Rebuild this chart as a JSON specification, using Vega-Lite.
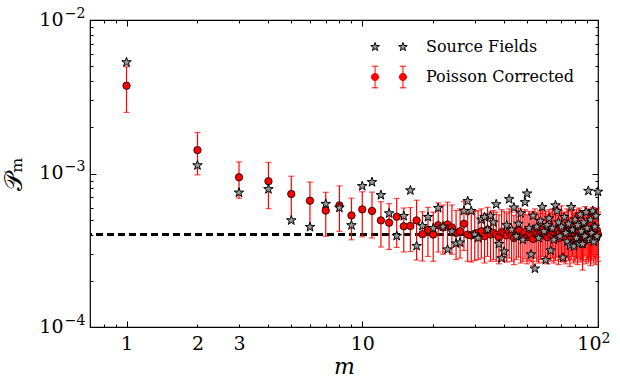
{
  "$schema": "https://vega.github.io/schema/vega-lite/v6.json",
  "width": 508,
  "height": 307,
  "autosize": "none",
  "padding": {"left": 90, "top": 20, "right": 22, "bottom": 54},
  "background": "white",
  "config": {"view": {"stroke": "black", "strokeWidth": 1.2}, "font": "DejaVu Serif"},
  "data": {"values": [
    {"m":1,"S":5.3e-3,"C":3.73e-3,"lo":2.5e-3,"hi":4.96e-3},
    {"m":2,"S":1.13e-3,"C":1.42e-3,"lo":9.8e-4,"hi":1.85e-3},
    {"m":3,"S":7.5e-4,"C":9.45e-4,"lo":6.9e-4,"hi":1.19e-3},
    {"m":4,"S":7.9e-4,"C":8.9e-4,"lo":5.9e-4,"hi":1.18e-3},
    {"m":5,"S":4.95e-4,"C":7.35e-4,"lo":4.8e-4,"hi":9.6e-4},
    {"m":6,"S":4.48e-4,"C":6.65e-4,"lo":4.4e-4,"hi":8.8e-4},
    {"m":7,"S":6.33e-4,"C":5.73e-4,"lo":3.9e-4,"hi":7.54e-4},
    {"m":8,"S":5.98e-4,"C":6.2e-4,"lo":4.2e-4,"hi":8.3e-4},
    {"m":9,"S":4.6e-4,"C":5.33e-4,"lo":3.7e-4,"hi":6.9e-4},
    {"m":10,"S":8.27e-4,"C":5.84e-4,"lo":3.87e-4,"hi":7.6e-4},
    {"m":11,"S":8.78e-4,"C":5.7e-4,"lo":3.8e-4,"hi":7.56e-4},
    {"m":12,"S":7.23e-4,"C":4.95e-4,"lo":3.32e-4,"hi":6.55e-4},
    {"m":13,"S":5.5e-4,"C":4.78e-4,"lo":3.2e-4,"hi":6.36e-4},
    {"m":14,"S":3.92e-4,"C":5.23e-4,"lo":3.3e-4,"hi":6.88e-4},
    {"m":15,"S":5.28e-4,"C":4.53e-4,"lo":3.08e-4,"hi":5.96e-4},
    {"m":16,"S":7.76e-4,"C":4.55e-4,"lo":3.1e-4,"hi":6.0e-4},
    {"m":17,"S":3.37e-4,"C":4.95e-4,"lo":2.73e-4,"hi":6.7e-4},
    {"m":18,"S":4.55e-4,"C":4.02e-4,"lo":2.69e-4,"hi":5.63e-4},
    {"m":19,"S":5.2e-4,"C":4.3e-4,"lo":2.88e-4,"hi":6.02e-4},
    {"m":20,"S":4.4e-4,"C":4.0e-4,"lo":2.68e-4,"hi":5.6e-4},
    {"m":21,"S":5.95e-4,"C":4.6e-4,"lo":3.08e-4,"hi":6.44e-4},
    {"m":22,"S":4.5e-4,"C":4.45e-4,"lo":2.98e-4,"hi":6.23e-4},
    {"m":23,"S":3.2e-4,"C":4.65e-4,"lo":3.12e-4,"hi":6.51e-4},
    {"m":24,"S":4.2e-4,"C":4.45e-4,"lo":2.98e-4,"hi":6.23e-4},
    {"m":25,"S":3.5e-4,"C":4.1e-4,"lo":2.75e-4,"hi":5.74e-4},
    {"m":26,"S":3.55e-4,"C":4.2e-4,"lo":2.81e-4,"hi":5.88e-4},
    {"m":27,"S":5.7e-4,"C":4.7e-4,"lo":3.15e-4,"hi":6.58e-4},
    {"m":28,"S":6.6e-4,"C":4.0e-4,"lo":2.68e-4,"hi":5.6e-4},
    {"m":29,"S":5.7e-4,"C":3.95e-4,"lo":2.65e-4,"hi":5.53e-4},
    {"m":30,"S":4.0e-4,"C":4.05e-4,"lo":2.71e-4,"hi":5.67e-4},
    {"m":31,"S":3.8e-4,"C":4.1e-4,"lo":2.75e-4,"hi":5.74e-4},
    {"m":32,"S":5.0e-4,"C":4.2e-4,"lo":2.81e-4,"hi":5.88e-4},
    {"m":33,"S":5.2e-4,"C":3.9e-4,"lo":2.61e-4,"hi":5.46e-4},
    {"m":34,"S":4.3e-4,"C":4.3e-4,"lo":2.88e-4,"hi":6.02e-4},
    {"m":35,"S":5.3e-4,"C":4.0e-4,"lo":2.68e-4,"hi":5.6e-4},
    {"m":36,"S":4.8e-4,"C":4.1e-4,"lo":2.75e-4,"hi":5.74e-4},
    {"m":37,"S":6.3e-4,"C":4.0e-4,"lo":2.68e-4,"hi":5.6e-4},
    {"m":38,"S":3.47e-4,"C":3.85e-4,"lo":2.58e-4,"hi":5.39e-4},
    {"m":39,"S":2.8e-4,"C":4.15e-4,"lo":2.78e-4,"hi":5.81e-4},
    {"m":40,"S":3.1e-4,"C":4.05e-4,"lo":2.71e-4,"hi":5.67e-4},
    {"m":41,"S":4.6e-4,"C":3.95e-4,"lo":2.65e-4,"hi":5.53e-4},
    {"m":42,"S":6.8e-4,"C":4.2e-4,"lo":2.81e-4,"hi":5.88e-4},
    {"m":43,"S":4.3e-4,"C":4.0e-4,"lo":2.68e-4,"hi":5.6e-4},
    {"m":44,"S":6.0e-4,"C":3.8e-4,"lo":2.55e-4,"hi":5.32e-4},
    {"m":45,"S":3.9e-4,"C":4.1e-4,"lo":2.75e-4,"hi":5.74e-4},
    {"m":46,"S":4.7e-4,"C":4.25e-4,"lo":2.85e-4,"hi":5.95e-4},
    {"m":47,"S":5.5e-4,"C":3.9e-4,"lo":2.61e-4,"hi":5.46e-4},
    {"m":48,"S":3.7e-4,"C":4.0e-4,"lo":2.68e-4,"hi":5.6e-4},
    {"m":49,"S":6.5e-4,"C":4.15e-4,"lo":2.78e-4,"hi":5.81e-4},
    {"m":50,"S":7.4e-4,"C":3.85e-4,"lo":2.58e-4,"hi":5.39e-4},
    {"m":51,"S":4.4e-4,"C":4.05e-4,"lo":2.71e-4,"hi":5.67e-4},
    {"m":52,"S":2.97e-4,"C":3.95e-4,"lo":2.65e-4,"hi":5.53e-4},
    {"m":53,"S":5.3e-4,"C":3.75e-4,"lo":2.51e-4,"hi":5.25e-4},
    {"m":54,"S":2.4e-4,"C":4.2e-4,"lo":2.81e-4,"hi":5.88e-4},
    {"m":55,"S":4.5e-4,"C":4.0e-4,"lo":2.68e-4,"hi":5.6e-4},
    {"m":56,"S":3.8e-4,"C":3.9e-4,"lo":2.61e-4,"hi":5.46e-4},
    {"m":57,"S":4.9e-4,"C":4.1e-4,"lo":2.75e-4,"hi":5.74e-4},
    {"m":58,"S":6.05e-4,"C":4.3e-4,"lo":2.88e-4,"hi":6.02e-4},
    {"m":59,"S":4.2e-4,"C":3.95e-4,"lo":2.65e-4,"hi":5.53e-4},
    {"m":60,"S":2.73e-4,"C":4.05e-4,"lo":2.71e-4,"hi":5.67e-4},
    {"m":61,"S":4.6e-4,"C":3.85e-4,"lo":2.58e-4,"hi":5.39e-4},
    {"m":62,"S":5.1e-4,"C":4.15e-4,"lo":2.78e-4,"hi":5.81e-4},
    {"m":63,"S":3.15e-4,"C":4.0e-4,"lo":2.68e-4,"hi":5.6e-4},
    {"m":64,"S":4.4e-4,"C":4.2e-4,"lo":2.81e-4,"hi":5.88e-4},
    {"m":65,"S":3.7e-4,"C":3.9e-4,"lo":2.61e-4,"hi":5.46e-4},
    {"m":66,"S":6.2e-4,"C":4.05e-4,"lo":2.71e-4,"hi":5.67e-4},
    {"m":67,"S":5.7e-4,"C":4.25e-4,"lo":2.85e-4,"hi":5.95e-4},
    {"m":68,"S":4.8e-4,"C":3.8e-4,"lo":2.55e-4,"hi":5.32e-4},
    {"m":69,"S":3.9e-4,"C":4.1e-4,"lo":2.75e-4,"hi":5.74e-4},
    {"m":70,"S":4.5e-4,"C":4.4e-4,"lo":2.95e-4,"hi":6.16e-4},
    {"m":71,"S":2.83e-4,"C":3.95e-4,"lo":2.65e-4,"hi":5.53e-4},
    {"m":72,"S":5.2e-4,"C":4.0e-4,"lo":2.68e-4,"hi":5.6e-4},
    {"m":73,"S":4.1e-4,"C":3.85e-4,"lo":2.58e-4,"hi":5.39e-4},
    {"m":74,"S":3.6e-4,"C":4.2e-4,"lo":2.81e-4,"hi":5.88e-4},
    {"m":75,"S":4.7e-4,"C":4.05e-4,"lo":2.71e-4,"hi":5.67e-4},
    {"m":76,"S":3.4e-4,"C":3.7e-4,"lo":2.48e-4,"hi":5.18e-4},
    {"m":77,"S":6.05e-4,"C":4.1e-4,"lo":2.75e-4,"hi":5.74e-4},
    {"m":78,"S":4.3e-4,"C":4.3e-4,"lo":2.88e-4,"hi":6.02e-4},
    {"m":79,"S":3.35e-4,"C":3.9e-4,"lo":2.61e-4,"hi":5.46e-4},
    {"m":80,"S":5.0e-4,"C":4.0e-4,"lo":2.68e-4,"hi":5.6e-4},
    {"m":81,"S":3.8e-4,"C":4.15e-4,"lo":2.78e-4,"hi":5.81e-4},
    {"m":82,"S":4.6e-4,"C":3.8e-4,"lo":2.55e-4,"hi":5.32e-4},
    {"m":83,"S":3.5e-4,"C":4.25e-4,"lo":2.85e-4,"hi":5.95e-4},
    {"m":84,"S":5.4e-4,"C":3.95e-4,"lo":2.65e-4,"hi":5.53e-4},
    {"m":85,"S":4.2e-4,"C":4.1e-4,"lo":2.75e-4,"hi":5.74e-4},
    {"m":86,"S":3.47e-4,"C":3.5e-4,"lo":2.35e-4,"hi":4.9e-4},
    {"m":87,"S":4.8e-4,"C":4.0e-4,"lo":2.68e-4,"hi":5.6e-4},
    {"m":88,"S":3.9e-4,"C":4.35e-4,"lo":2.91e-4,"hi":6.09e-4},
    {"m":89,"S":5.6e-4,"C":3.85e-4,"lo":2.58e-4,"hi":5.39e-4},
    {"m":90,"S":4.4e-4,"C":4.1e-4,"lo":2.75e-4,"hi":5.74e-4},
    {"m":91,"S":7.7e-4,"C":3.95e-4,"lo":2.65e-4,"hi":5.53e-4},
    {"m":92,"S":3.7e-4,"C":4.2e-4,"lo":2.81e-4,"hi":5.88e-4},
    {"m":93,"S":5.0e-4,"C":3.75e-4,"lo":2.51e-4,"hi":5.25e-4},
    {"m":94,"S":4.1e-4,"C":4.05e-4,"lo":2.71e-4,"hi":5.67e-4},
    {"m":95,"S":5.7e-4,"C":4.3e-4,"lo":2.88e-4,"hi":6.02e-4},
    {"m":96,"S":3.6e-4,"C":3.9e-4,"lo":2.61e-4,"hi":5.46e-4},
    {"m":97,"S":4.5e-4,"C":4.15e-4,"lo":2.78e-4,"hi":5.81e-4},
    {"m":98,"S":5.3e-4,"C":3.8e-4,"lo":2.55e-4,"hi":5.32e-4},
    {"m":99,"S":3.9e-4,"C":4.25e-4,"lo":2.85e-4,"hi":5.95e-4},
    {"m":100,"S":7.6e-4,"C":4.0e-4,"lo":2.68e-4,"hi":5.6e-4}
  ]},
  "layer": [
    {
      "mark": {"type": "rule", "stroke": "black", "strokeDash": [7, 4], "strokeWidth": 1.5},
      "encoding": {
        "y": {"datum": 0.0004, "type": "quantitative", "scale": {"type": "log", "domain": [0.0001, 0.01], "nice": false}, "axis": null}
      }
    },
    {
      "mark": {"type": "rule", "color": "#ff0000", "strokeWidth": 1.2},
      "encoding": {
        "x": {"field": "m", "type": "quantitative", "scale": {"type": "log", "domain": [0.7, 100], "nice": false},
          "axis": {"orient": "bottom", "values": [0.7,0.8,0.9,1,2,3,4,5,6,7,8,9,10,20,30,40,50,60,70,80,90,100], "labels": false, "domain": false, "grid": false, "title": null, "tickColor": "black", "tickWidth": 1,
            "tickSize": {"condition": {"test": "datum.value == 1 || datum.value == 10 || datum.value == 100", "value": -6}, "value": -3}}},
        "y": {"field": "lo", "type": "quantitative", "scale": {"type": "log", "domain": [0.0001, 0.01], "nice": false},
          "axis": {"orient": "left", "values": [0.0001,0.0002,0.0003,0.0004,0.0005,0.0006,0.0007,0.0008,0.0009,0.001,0.002,0.003,0.004,0.005,0.006,0.007,0.008,0.009,0.01], "labels": false, "domain": false, "grid": false, "title": null, "tickColor": "black", "tickWidth": 1,
            "tickSize": {"condition": {"test": "datum.value == 0.0001 || datum.value == 0.001 || datum.value == 0.01", "value": -6}, "value": -3}}},
        "y2": {"field": "hi"}
      }
    },
    {
      "mark": {"type": "tick", "orient": "horizontal", "color": "#ff0000", "thickness": 1.2, "size": 6},
      "encoding": {
        "x": {"field": "m", "type": "quantitative", "scale": {"type": "log", "domain": [0.7, 100], "nice": false},
          "axis": {"orient": "bottom", "values": [1, 2, 3, 10], "ticks": false, "domain": false, "grid": false, "labelFont": "DejaVu Serif", "labelFontSize": 19, "labelColor": "black", "labelPadding": 7, "labelFlush": false, "labelOverlap": false, "format": "d",
            "title": "m", "titleFont": "DejaVu Serif", "titleFontStyle": "italic", "titleFontWeight": "normal", "titleFontSize": 22, "titleColor": "black", "titlePadding": 3}},
        "y": {"field": "hi", "type": "quantitative", "scale": {"type": "log", "domain": [0.0001, 0.01], "nice": false},
          "axis": {"orient": "left", "values": [0.0001, 0.001, 0.01], "labelExpr": "'10'", "ticks": false, "domain": false, "grid": false, "labelFont": "DejaVu Serif", "labelFontSize": 19, "labelColor": "black", "labelPadding": 27, "labelFlush": false, "labelOverlap": false, "labelBaseline": "middle", "labelOffset": -1,
            "title": "𝒫ₘ", "titleFont": "DejaVu Serif", "titleFontWeight": "normal", "titleFontSize": 25, "titleColor": "black", "titlePadding": 12}}
      }
    },
    {
      "mark": {"type": "tick", "orient": "horizontal", "color": "#ff0000", "thickness": 1.2, "size": 6},
      "encoding": {
        "x": {"field": "m", "type": "quantitative", "scale": {"type": "log", "domain": [0.7, 100], "nice": false},
          "axis": {"orient": "bottom", "values": [100], "labelExpr": "'10'", "labelAlign": "right", "labelOffset": 3, "ticks": false, "domain": false, "grid": false, "labelFont": "DejaVu Serif", "labelFontSize": 19, "labelColor": "black", "labelPadding": 7, "labelFlush": false, "labelOverlap": false, "title": null}},
        "y": {"field": "lo", "type": "quantitative", "scale": {"type": "log", "domain": [0.0001, 0.01], "nice": false},
          "axis": {"orient": "left", "values": [0.0001, 0.001, 0.01], "labelExpr": "datum.value < 0.0005 ? '−4' : datum.value < 0.005 ? '−3' : '−2'", "labelOffset": -7, "ticks": false, "domain": false, "grid": false, "labelFont": "DejaVu Serif", "labelFontSize": 14, "labelColor": "black", "labelPadding": 5, "labelFlush": false, "labelOverlap": false, "labelBaseline": "middle", "title": null}}
      }
    },
    {
      "mark": {"type": "point", "shape": "circle", "filled": true, "opacity": 1, "size": 55, "stroke": "black", "strokeWidth": 0.8},
      "encoding": {
        "x": {"field": "m", "type": "quantitative", "scale": {"type": "log", "domain": [0.7, 100], "nice": false},
          "axis": {"orient": "top", "values": [0.7,0.8,0.9,1,2,3,4,5,6,7,8,9,10,20,30,40,50,60,70,80,90,100], "labels": false, "domain": false, "grid": false, "title": null, "tickColor": "black", "tickWidth": 1,
            "tickSize": {"condition": {"test": "datum.value == 1 || datum.value == 10 || datum.value == 100", "value": -6}, "value": -3}}},
        "y": {"field": "C", "type": "quantitative", "scale": {"type": "log", "domain": [0.0001, 0.01], "nice": false},
          "axis": {"orient": "right", "values": [0.0001,0.0002,0.0003,0.0004,0.0005,0.0006,0.0007,0.0008,0.0009,0.001,0.002,0.003,0.004,0.005,0.006,0.007,0.008,0.009,0.01], "labels": false, "domain": false, "grid": false, "title": null, "tickColor": "black", "tickWidth": 1,
            "tickSize": {"condition": {"test": "datum.value == 0.0001 || datum.value == 0.001 || datum.value == 0.01", "value": -6}, "value": -3}}},
        "fill": {"datum": "Poisson Corrected", "scale": {"domain": ["Poisson Corrected"], "range": ["#ff0000"]},
          "legend": {"title": null, "orient": "none", "legendX": 291, "legendY": 49, "symbolSize": 81, "labelFont": "DejaVu Serif", "labelFontSize": 16, "labelColor": "black", "labelOffset": 29, "labelLimit": 300, "symbolOpacity": 1,
            "symbolStrokeColor": "#ff0000", "symbolStrokeWidth": 1,
            "symbolType": "M-3.9,0A0.8,0.8 0 1,0 -2.3,0A0.8,0.8 0 1,0 -3.9,0ZM-3.1,-2.4L-3.1,2.4M-3.8,-2.4L-2.4,-2.4M-3.8,2.4L-2.4,2.4M2.3,0A0.8,0.8 0 1,0 3.9,0A0.8,0.8 0 1,0 2.3,0ZM3.1,-2.4L3.1,2.4M2.4,-2.4L3.8,-2.4M2.4,2.4L3.8,2.4"}}
      }
    },
    {
      "mark": {"type": "point", "shape": "M0,-1L0.229,-0.316L0.951,-0.309L0.371,0.121L0.588,0.809L0,0.39L-0.588,0.809L-0.371,0.121L-0.951,-0.309L-0.229,-0.316Z", "filled": true, "opacity": 1, "size": 100, "stroke": "black", "strokeWidth": 1},
      "encoding": {
        "x": {"field": "m", "type": "quantitative", "scale": {"type": "log", "domain": [0.7, 100], "nice": false},
          "axis": {"orient": "bottom", "values": [100], "labelExpr": "'2'", "labelAlign": "left", "labelOffset": 3, "ticks": false, "domain": false, "grid": false, "labelFont": "DejaVu Serif", "labelFontSize": 14, "labelColor": "black", "labelPadding": 4, "labelFlush": false, "labelOverlap": false, "title": null}},
        "y": {"field": "S", "type": "quantitative", "scale": {"type": "log", "domain": [0.0001, 0.01], "nice": false}, "axis": null},
        "fill": {"datum": "Source Fields", "scale": {"domain": ["Source Fields"], "range": ["#999999"]},
          "legend": {"title": null, "orient": "none", "legendX": 291, "legendY": 19, "symbolSize": 81, "labelFont": "DejaVu Serif", "labelFontSize": 16, "labelColor": "black", "labelOffset": 29, "labelLimit": 300, "symbolOpacity": 1,
            "symbolStrokeColor": "black", "symbolStrokeWidth": 1,
            "symbolType": "M-3.1,-1L-2.871,-0.316L-2.149,-0.309L-2.729,0.121L-2.512,0.809L-3.1,0.39L-3.688,0.809L-3.471,0.121L-4.051,-0.309L-3.329,-0.316ZM3.1,-1L3.329,-0.316L4.051,-0.309L3.471,0.121L3.688,0.809L3.1,0.39L2.512,0.809L2.729,0.121L2.149,-0.309L2.871,-0.316Z"}}
      }
    }
  ],
  "resolve": {"axis": {"x": "independent", "y": "independent"}, "scale": {"fill": "independent"}, "legend": {"fill": "independent"}}
}
